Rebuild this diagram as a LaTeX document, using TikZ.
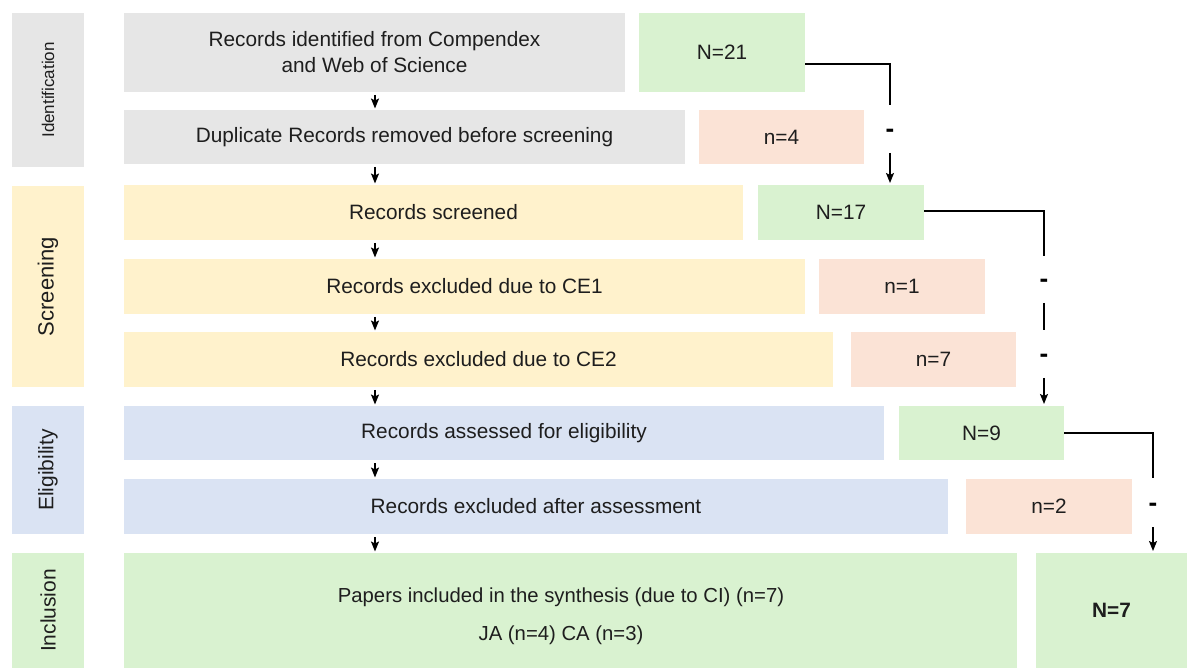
\documentclass[tikz,border=0pt]{standalone}
\usepackage{fontspec}
\setmainfont{Liberation Sans}
\usetikzlibrary{arrows.meta,calc}
\definecolor{cgray}{HTML}{E6E6E6}
\definecolor{cyel}{HTML}{FFF2CC}
\definecolor{cblue}{HTML}{DAE3F3}
\definecolor{cgreen}{HTML}{D9F2D0}
\definecolor{cpink}{HTML}{FBE3D6}
\definecolor{txt}{HTML}{1E1E1E}
\begin{document}
\begin{tikzpicture}[x=1pt,y=-1pt,
  bx/.style={anchor=north west, inner sep=0pt, outer sep=0pt, align=center,
    font=\fontsize{20.8}{26}\selectfont, text=txt},
  lab/.style={rotate=90, inner sep=0pt, outer sep=0pt, minimum height=72pt, text=txt},
  ln/.style={line width=1.5pt, black},
  arr/.style={line width=1.5pt, black, -{Stealth[length=10pt,width=8pt,inset=2pt]}},
  dsh/.style={inner sep=0pt, font=\fontsize{26}{26}\selectfont\bfseries, text=black}
]
\useasboundingbox (0,0) rectangle (1187,668);

% stage labels
\node[lab, fill=cgray, minimum width=154pt, font=\fontsize{17}{20}\selectfont] (Lid) at (48,90) {Identification};
\node[lab, fill=cyel, minimum width=201pt, font=\fontsize{22}{24}\selectfont] (Lsc) at (48,286.5) {Screening};
\node[lab, fill=cblue, minimum width=128pt, font=\fontsize{21}{24}\selectfont] (Lel) at (48,470) {Eligibility};
\node[lab, fill=cgreen, minimum width=115pt, font=\fontsize{21}{24}\selectfont] (Lin) at (48,610.5) {Inclusion};

% main boxes
\node[bx, fill=cgray, minimum width=501pt, minimum height=79pt] (r1) at (124,13)
  {Records identified from Compendex\\and Web of Science};
\node[bx, fill=cgray, minimum width=561pt, minimum height=54pt] (r2) at (124,110)
  {Duplicate Records removed before screening};
\node[bx, fill=cyel, minimum width=619pt, minimum height=55pt] (r3) at (124,185)
  {Records screened};
\node[bx, fill=cyel, minimum width=681pt, minimum height=55pt] (r4) at (124,259)
  {Records excluded due to CE1};
\node[bx, fill=cyel, minimum width=709pt, minimum height=55pt] (r5) at (124,332)
  {Records excluded due to CE2};
\node[bx, fill=cblue, minimum width=760pt, minimum height=54pt] (r6) at (124,406)
  {Records assessed for eligibility};
\node[bx, fill=cblue, minimum width=824pt, minimum height=55pt] (r7) at (124,479)
  {Records excluded after assessment};
\node[bx, fill=cgreen, minimum width=893pt, minimum height=115pt] (r8) at (124,553) {};
\node[align=center, inner sep=0pt, font=\fontsize{20.3}{38}\selectfont, text=txt] (r8t) at (561,616)
  {Papers included in the synthesis (due to CI) (n=7)\\JA (n=4) CA (n=3)};

% count boxes
\node[bx, fill=cgreen, minimum width=166pt, minimum height=79pt] (N21) at (639,13) {N=21};
\node[bx, fill=cpink, minimum width=165pt, minimum height=54pt] (n4) at (699,110) {n=4};
\node[bx, fill=cgreen, minimum width=166pt, minimum height=55pt] (N17) at (758,185) {N=17};
\node[bx, fill=cpink, minimum width=166pt, minimum height=55pt] (n1) at (819,259) {n=1};
\node[bx, fill=cpink, minimum width=165pt, minimum height=55pt] (n7) at (851,332) {n=7};
\node[bx, fill=cgreen, minimum width=165pt, minimum height=54pt] (N9) at (899,406) {N=9};
\node[bx, fill=cpink, minimum width=166pt, minimum height=55pt] (n2) at (966,479) {n=2};
\node[bx, fill=cgreen, minimum width=151pt, minimum height=115pt, font=\fontsize{20.8}{26}\selectfont\bfseries] (N7) at (1036,553) {N=7};

% vertical flow arrows
\coordinate (ax) at (375,0);
\foreach \a/\b in {r1/r2, r2/r3, r3/r4, r4/r5, r5/r6, r6/r7, r7/r8}{
  \draw[arr, shorten >=1.5pt] (ax |- \a.south) ++(0,3) -- (ax |- \b.north);
}

% right-hand connectors
\coordinate (k1) at (890,105);
\coordinate (k1b) at (890,153);
\draw[ln] ($(N21.north east)+(0,51)$) -| (k1);
\node[dsh] (d1) at (890,133) {-};
\draw[arr, shorten >=2pt] (k1b) -- (k1 |- N17.north);

\coordinate (k2) at (1044,256);
\coordinate (k2b) at (1044,303);
\coordinate (k2c) at (1044,330);
\coordinate (k2d) at (1044,378);
\draw[ln] ($(N17.north east)+(0,26)$) -| (k2);
\node[dsh] (d2) at (1044,283) {-};
\draw[ln] (k2b) -- (k2c);
\node[dsh] (d3) at (1044,358) {-};
\draw[arr, shorten >=2pt] (k2d) -- (k2 |- N9.north);

\coordinate (k3) at (1153,478);
\coordinate (k3b) at (1153,527);
\draw[ln] ($(N9.north east)+(0,27)$) -| (k3);
\node[dsh] (d4) at (1153,507) {-};
\draw[arr, shorten >=2pt] (k3b) -- (k3 |- N7.north);
\end{tikzpicture}
\end{document}
